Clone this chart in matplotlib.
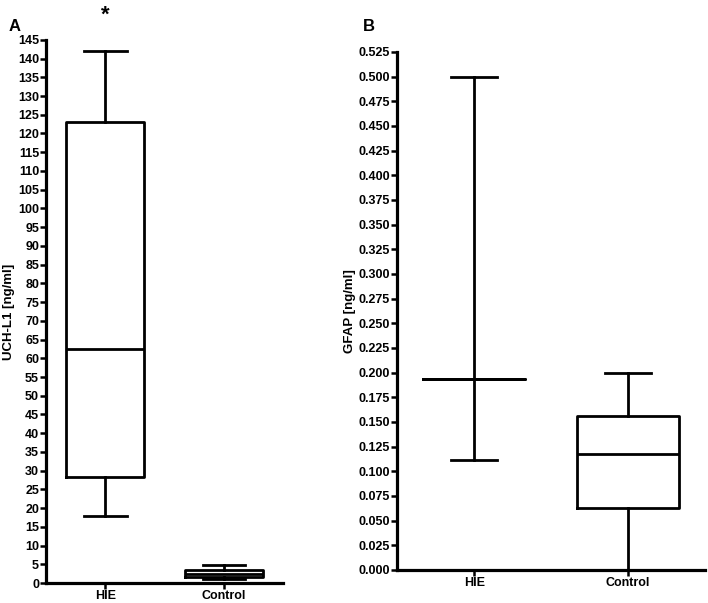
import matplotlib.pyplot as plt

plt.rcParams['font.family'] = ['Liberation Sans', 'DejaVu Sans']
plt.rcParams['font.weight'] = 'bold'

groups = ["HIE", "Control"]

# UCH-L1 [ng/ml]: whisker low, Q1, median, Q3, whisker high
uch_whislo = [18.0, 1.2]
uch_q1 = [28.2, 1.5]
uch_med = [62.5, 2.5]
uch_q3 = [123.0, 3.5]
uch_whishi = [142.0, 4.8]

# GFAP [ng/ml]
gfap_whislo = [0.111, 0.000]
gfap_q1 = [0.193, 0.063]
gfap_med = [0.193, 0.117]
gfap_q3 = [0.193, 0.156]
gfap_whishi = [0.500, 0.199]


def make_stats(lo, q1, med, q3, hi):
    out = []
    for i in range(len(groups)):
        out.append(dict(label=groups[i], whislo=lo[i], q1=q1[i], med=med[i],
                        q3=q3[i], whishi=hi[i], fliers=[]))
    return out


def draw(ax, stats, capw, ylim, step, fmt, ylabel):
    lw = 2.0
    ax.bxp(stats, positions=[1, 2], widths=0.66, showfliers=False,
           capwidths=capw,
           boxprops=dict(color="black", linewidth=lw),
           medianprops=dict(color="black", linewidth=lw),
           whiskerprops=dict(color="black", linewidth=lw),
           capprops=dict(color="black", linewidth=lw))
    ax.set_xlim(0.5, 2.5)
    ax.set_ylim(0, ylim)
    n = int(round(ylim / step))
    ticks = [i * step for i in range(n + 1)]
    ax.set_yticks(ticks)
    ax.set_yticklabels([fmt.format(t) for t in ticks], fontsize=9, fontweight="bold")
    ax.set_xticks([1, 2])
    ax.set_xticklabels(groups, fontsize=9, fontweight="bold")
    ax.set_ylabel(ylabel, fontsize=9.5, fontweight="bold", labelpad=2)
    ax.spines["top"].set_visible(False)
    ax.spines["right"].set_visible(False)
    ax.spines["left"].set_linewidth(2.3)
    ax.spines["bottom"].set_linewidth(2.3)
    ax.tick_params(direction="out", length=4, width=1.8, pad=1)


fig = plt.figure(figsize=(7.08, 6.03), dpi=100)
axA = fig.add_axes([0.065, 0.033, 0.335, 0.901])
axB = fig.add_axes([0.561, 0.055, 0.435, 0.859])

draw(axA, make_stats(uch_whislo, uch_q1, uch_med, uch_q3, uch_whishi),
     0.36, 145, 5, "{:.0f}", "UCH-L1 [ng/ml]")
draw(axB, make_stats(gfap_whislo, gfap_q1, gfap_med, gfap_q3, gfap_whishi),
     0.30, 0.525, 0.025, "{:.3f}", "GFAP [ng/ml]")

axA.text(1, 1.025, "*", transform=axA.get_xaxis_transform(), ha="center",
         va="bottom", fontsize=16, fontweight="bold")
fig.text(0.012, 0.948, "A", fontsize=12, fontweight="bold")
fig.text(0.513, 0.948, "B", fontsize=12, fontweight="bold")

fig.savefig("out.png", dpi=100)
